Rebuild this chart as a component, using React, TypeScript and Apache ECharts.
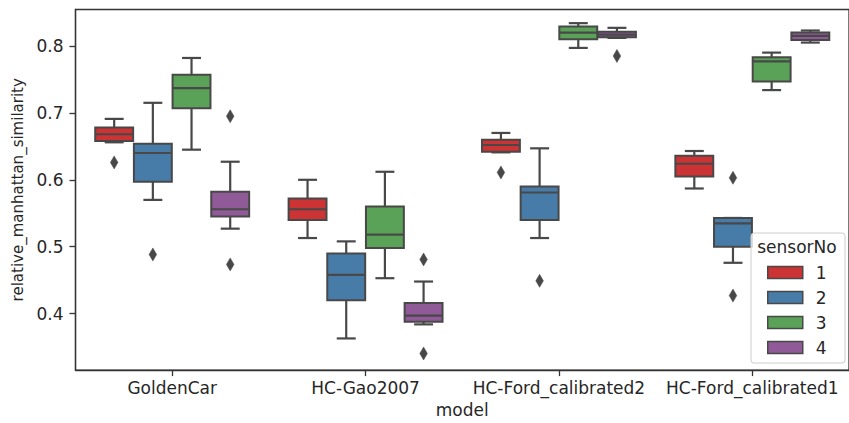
import { useEffect, useRef } from 'react';
import * as echarts from 'echarts';

const models = ['GoldenCar', 'HC-Gao2007', 'HC-Ford_calibrated2', 'HC-Ford_calibrated1'];
const sensors = ['1', '2', '3', '4'];

// [min (lower whisker), Q1, median, Q3, max (upper whisker)] per model
const sensor1Stats = [
  [0.656, 0.658, 0.668, 0.678, 0.691],
  [0.513, 0.540, 0.556, 0.572, 0.600],
  [0.641, 0.642, 0.652, 0.660, 0.670],
  [0.587, 0.605, 0.624, 0.636, 0.643],
];
const sensor2Stats = [
  [0.570, 0.597, 0.640, 0.654, 0.715],
  [0.363, 0.420, 0.458, 0.490, 0.508],
  [0.513, 0.540, 0.581, 0.590, 0.647],
  [0.476, 0.500, 0.535, 0.543, 0.543],
];
const sensor3Stats = [
  [0.645, 0.707, 0.737, 0.757, 0.782],
  [0.453, 0.498, 0.518, 0.560, 0.612],
  [0.797, 0.810, 0.820, 0.829, 0.834],
  [0.734, 0.747, 0.777, 0.783, 0.790],
];
const sensor4Stats = [
  [0.527, 0.545, 0.556, 0.582, 0.627],
  [0.384, 0.388, 0.397, 0.416, 0.448],
  [0.812, 0.813, 0.817, 0.821, 0.827],
  [0.805, 0.809, 0.815, 0.820, 0.823],
];
const sensorStats = [sensor1Stats, sensor2Stats, sensor3Stats, sensor4Stats];

// [model index, value]
const sensor1Outliers = [[0, 0.626], [2, 0.611]];
const sensor2Outliers = [[0, 0.4885], [2, 0.449], [3, 0.603], [3, 0.427]];
const sensor3Outliers: number[][] = [];
const sensor4Outliers = [[0, 0.695], [0, 0.4736], [1, 0.481], [1, 0.3405], [2, 0.785]];
const sensorOutliers = [sensor1Outliers, sensor2Outliers, sensor3Outliers, sensor4Outliers];

const yTicks = [0.4, 0.5, 0.6, 0.7, 0.8];
const yMin = 0.3157;
const yMax = 0.8544;

const PALETTE = ['#cb3335', '#477ca8', '#59a257', '#905998'];
const EDGE = '#484848';
const TEXT = '#262626';
const FONT = 'DejaVu Sans';

function hueCenter(api: any, cat: number, h: number) {
  const band = api.size([1, 0])[0];
  const slot = (band * 0.8) / sensors.length;
  const base = api.coord([cat, yTicks[0]])[0];
  return { center: base + (h - (sensors.length - 1) / 2) * slot, slot };
}

function makeBoxRender(h: number) {
  return (_params: any, api: any) => {
    const cat = api.value(0);
    const { center, slot } = hueCenter(api, cat, h);
    const half = (slot * 0.98) / 2;
    const capHalf = half / 2;
    const y = (k: number) => api.coord([cat, api.value(k)])[1];
    const yLo = y(1), yQ1 = y(2), yMed = y(3), yQ3 = y(4), yHi = y(5);
    const ls = { stroke: EDGE, lineWidth: 2.2, fill: null };
    return {
      type: 'group',
      children: [
        { type: 'line', shape: { x1: center, y1: yQ1, x2: center, y2: yLo }, style: ls },
        { type: 'line', shape: { x1: center, y1: yQ3, x2: center, y2: yHi }, style: ls },
        { type: 'line', shape: { x1: center - capHalf, y1: yLo, x2: center + capHalf, y2: yLo }, style: ls },
        { type: 'line', shape: { x1: center - capHalf, y1: yHi, x2: center + capHalf, y2: yHi }, style: ls },
        {
          type: 'rect',
          shape: { x: center - half, y: yQ3, width: half * 2, height: yQ1 - yQ3 },
          style: { fill: PALETTE[h], stroke: EDGE, lineWidth: 2 },
        },
        { type: 'line', shape: { x1: center - half, y1: yMed, x2: center + half, y2: yMed }, style: ls },
      ],
    };
  };
}

function makeOutlierRender(h: number) {
  return (_params: any, api: any) => {
    const cat = api.value(0);
    const { center } = hueCenter(api, cat, h);
    const yy = api.coord([cat, api.value(1)])[1];
    const hw = 3.8, hh = 6.5;
    return {
      type: 'polygon',
      shape: { points: [[center, yy - hh], [center + hw, yy], [center, yy + hh], [center - hw, yy]] },
      style: { fill: EDGE, stroke: EDGE, lineWidth: 0.5 },
    };
  };
}

export default function App() {
  const ref = useRef<HTMLDivElement>(null);
  useEffect(() => {
    if (!ref.current) return;
    const chart = echarts.init(ref.current, undefined, { renderer: 'svg' });
    const boxSeries = sensors.map((name, h) => ({
      type: 'custom',
      name,
      renderItem: makeBoxRender(h),
      itemStyle: { color: PALETTE[h] },
      encode: { x: 0, y: [1, 2, 3, 4, 5] },
      data: sensorStats[h].map((s, i) => [i, ...s]),
      z: 2,
    }));
    const outlierSeries = sensors.map((name, h) => ({
      type: 'custom',
      name: 'outliers ' + name,
      renderItem: makeOutlierRender(h),
      itemStyle: { color: EDGE },
      encode: { x: 0, y: 1 },
      data: sensorOutliers[h],
      z: 3,
    }));
    chart.setOption({
      animation: false,
      backgroundColor: '#ffffff',
      textStyle: { fontFamily: FONT },
      grid: {
        left: 75.5,
        right: -6,
        top: 9.5,
        bottom: 52,
        show: true,
        borderColor: '#333333',
        borderWidth: 1.3,
        backgroundColor: 'transparent',
      },
      xAxis: {
        type: 'category',
        data: models,
        name: 'model',
        nameLocation: 'middle',
        nameGap: 27,
        nameTextStyle: { fontSize: 17, color: TEXT, fontFamily: FONT },
        axisLine: { show: true, lineStyle: { color: '#333333', width: 1.3 } },
        axisTick: { show: true, alignWithLabel: true, length: 6, lineStyle: { color: '#333333', width: 1.3 } },
        axisLabel: { fontSize: 17, color: TEXT, fontFamily: FONT, margin: 9, interval: 0 },
        splitLine: { show: false },
      },
      yAxis: {
        type: 'value',
        min: yMin,
        max: yMax,
        name: 'relative_manhattan_similarity',
        nameLocation: 'middle',
        nameGap: 48,
        nameTextStyle: { fontSize: 15, color: TEXT, fontFamily: FONT },
        axisLine: { show: true, lineStyle: { color: '#333333', width: 1.3 } },
        axisTick: { show: true, length: 6, customValues: yTicks, lineStyle: { color: '#333333', width: 1.3 } },
        axisLabel: {
          fontSize: 17,
          color: TEXT,
          fontFamily: FONT,
          margin: 12,
          customValues: yTicks,
          formatter: (v: number) => v.toFixed(1),
        },
        splitLine: { show: false },
      },
      legend: {
        data: sensors,
        orient: 'vertical',
        left: 767,
        top: 264,
        padding: 0,
        itemWidth: 35,
        itemHeight: 12,
        itemGap: 8,
        icon: 'rect',
        z: 12,
        itemStyle: { borderColor: EDGE, borderWidth: 1.5 },
        textStyle: { fontSize: 17, color: TEXT, fontFamily: FONT, padding: [0, 0, 0, 8] },
        selectedMode: false,
      },
      graphic: [
        {
          type: 'rect',
          z: 10,
          shape: { x: 751, y: 233, width: 94, height: 130, r: 3 },
          style: { fill: 'rgba(255,255,255,0.8)', stroke: '#cccccc', lineWidth: 1 },
        },
        {
          type: 'text',
          z: 12,
          x: 797,
          y: 247,
          style: {
            text: 'sensorNo',
            fontSize: 17,
            fontFamily: FONT,
            fill: TEXT,
            align: 'center',
            verticalAlign: 'middle',
          },
        },
      ],
      series: [...boxSeries, ...outlierSeries],
    });
    return () => chart.dispose();
  }, []);
  return (
    <div
      ref={ref}
      style={{ position: 'absolute', left: 0, top: 0, width: 849, height: 423 }}
    />
  );
}
